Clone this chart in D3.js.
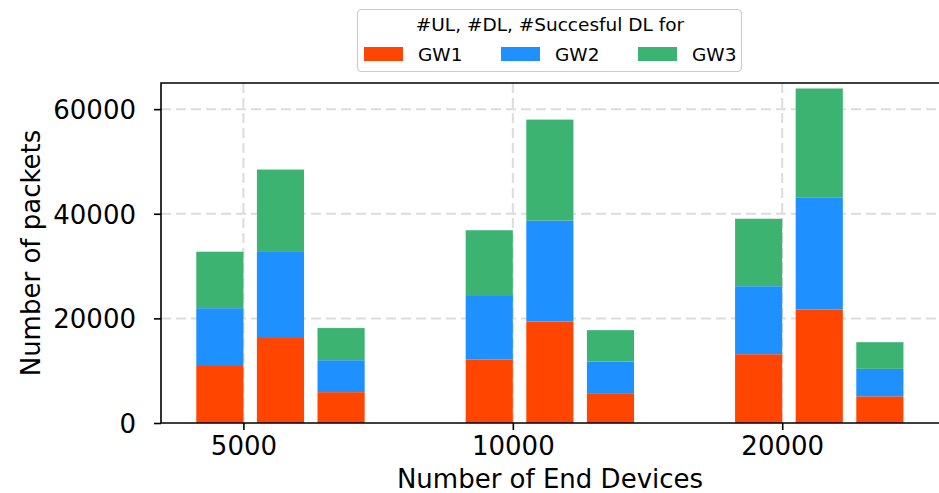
<!DOCTYPE html>
<html>
<head>
<meta charset="utf-8">
<script src="https://cdn.jsdelivr.net/npm/d3@7/dist/d3.min.js"></script>
<style>
  html, body { margin: 0; padding: 0; background: #fff; }
  svg { display: block; font-family: "DejaVu Sans", sans-serif; }
</style>
</head>
<body>
<svg id="chart" width="939" height="493"></svg>
<script>
// Number of end devices per scenario
const deviceCounts = ["5000", "10000", "20000"];
// Gateways stacked within each bar
const gateways = ["GW1", "GW2", "GW3"];
const gatewayColors = ["#FF4500", "#1E90FF", "#3CB371"];

// Uplink packets per gateway
const ulGW1 = [10900, 12150, 13150];
const ulGW2 = [11050, 12300, 13000];
const ulGW3 = [10800, 12400, 12900];
// Downlink packets per gateway
const dlGW1 = [16250, 19400, 21700];
const dlGW2 = [16450, 19300, 21350];
const dlGW3 = [15750, 19300, 20900];
// Successful downlink packets per gateway
const sdlGW1 = [5900, 5700, 5100];
const sdlGW2 = [6100, 6050, 5250];
const sdlGW3 = [6150, 6000, 5100];

const yTicks = [0, 20000, 40000, 60000];
const legendTitle = "#UL, #DL, #Succesful DL for";
const xTitle = "Number of End Devices";
const yTitle = "Number of packets";

// One bar per packet type in each device group
const barGroups = [
  { series: [ulGW1, ulGW2, ulGW3] },
  { series: [dlGW1, dlGW2, dlGW3] },
  { series: [sdlGW1, sdlGW2, sdlGW3] }
];

const svg = d3.select("#chart");
const plot = { left: 161, right: 939, top: 83, bottom: 423 };

const x = d3.scaleLinear().domain([-0.306, 2.582]).range([plot.left, plot.right]);
const y = d3.scaleLinear().domain([0, 65000]).range([plot.bottom, plot.top]);

const barWidth = 0.175;
const barLefts = [-0.175, 0.05, 0.275];

// Grid lines
const grid = svg.append("g").attr("stroke", "#dcdcdc").attr("stroke-width", 2)
  .attr("stroke-dasharray", "10,5");
grid.selectAll("line.h").data(yTicks.filter(d => d > 0)).join("line")
  .attr("x1", plot.left).attr("x2", plot.right)
  .attr("y1", d => y(d)).attr("y2", d => y(d));
grid.selectAll("line.v").data(deviceCounts).join("line")
  .attr("x1", (d, i) => x(i)).attr("x2", (d, i) => x(i))
  .attr("y1", plot.top).attr("y2", plot.bottom);

// Stacked bars
barGroups.forEach((grp, b) => {
  const rows = deviceCounts.map((c, i) => {
    const r = { idx: i };
    gateways.forEach((g, k) => { r[g] = grp.series[k][i]; });
    return r;
  });
  const stacked = d3.stack().keys(gateways)(rows);
  stacked.forEach((layer, k) => {
    svg.append("g").attr("fill", gatewayColors[k])
      .selectAll("rect").data(layer).join("rect")
      .attr("x", d => x(d.data.idx + barLefts[b]))
      .attr("width", d => x(d.data.idx + barLefts[b] + barWidth) - x(d.data.idx + barLefts[b]))
      .attr("y", d => y(d[1]))
      .attr("height", d => y(d[0]) - y(d[1]));
  });
});

// Axes
const yAxis = svg.append("g").attr("transform", `translate(${plot.left},0)`)
  .call(d3.axisLeft(y).tickValues(yTicks).tickFormat(d3.format("d")).tickSize(7).tickPadding(18));
yAxis.select(".domain").remove();
yAxis.selectAll("line").attr("stroke", "#000").attr("stroke-width", 1.6);
yAxis.selectAll("text").attr("font-size", 26).attr("fill", "#000")
  .attr("font-family", "DejaVu Sans").attr("dy", "0.36em");

const xAxis = svg.append("g").attr("transform", `translate(0,${plot.bottom})`)
  .call(d3.axisBottom(x).tickValues([0, 1, 2]).tickFormat(i => deviceCounts[i]).tickSize(7).tickPadding(7));
xAxis.select(".domain").remove();
xAxis.selectAll("line").attr("stroke", "#000").attr("stroke-width", 1.6);
xAxis.selectAll("text").attr("font-size", 26).attr("fill", "#000")
  .attr("font-family", "DejaVu Sans");

// Spines
svg.append("path")
  .attr("d", `M${plot.right},${plot.top}H${plot.left}V${plot.bottom}H${plot.right}`)
  .attr("fill", "none").attr("stroke", "#000").attr("stroke-width", 1.6);

// Axis titles
svg.append("text").attr("x", (plot.left + plot.right) / 2).attr("y", 488)
  .attr("text-anchor", "middle").attr("font-size", 26).text(xTitle);
svg.append("text").attr("transform", "translate(40,253) rotate(-90)")
  .attr("text-anchor", "middle").attr("font-size", 26).text(yTitle);

// Legend
const legend = svg.append("g");
legend.append("rect").attr("x", 357.5).attr("y", 9.5).attr("width", 384).attr("height", 62)
  .attr("rx", 4).attr("fill", "#fff").attr("stroke", "#cccccc").attr("stroke-width", 1.2);
legend.append("text").attr("x", 550).attr("y", 31).attr("text-anchor", "middle")
  .attr("font-size", 18.5).text(legendTitle);
const legendX = [364, 501, 638];
gateways.forEach((g, k) => {
  legend.append("rect").attr("x", legendX[k]).attr("y", 47).attr("width", 39).attr("height", 14)
    .attr("fill", gatewayColors[k]);
  legend.append("text").attr("x", legendX[k] + 54).attr("y", 60.5)
    .attr("font-size", 18.5).text(g);
});
</script>
</body>
</html>
